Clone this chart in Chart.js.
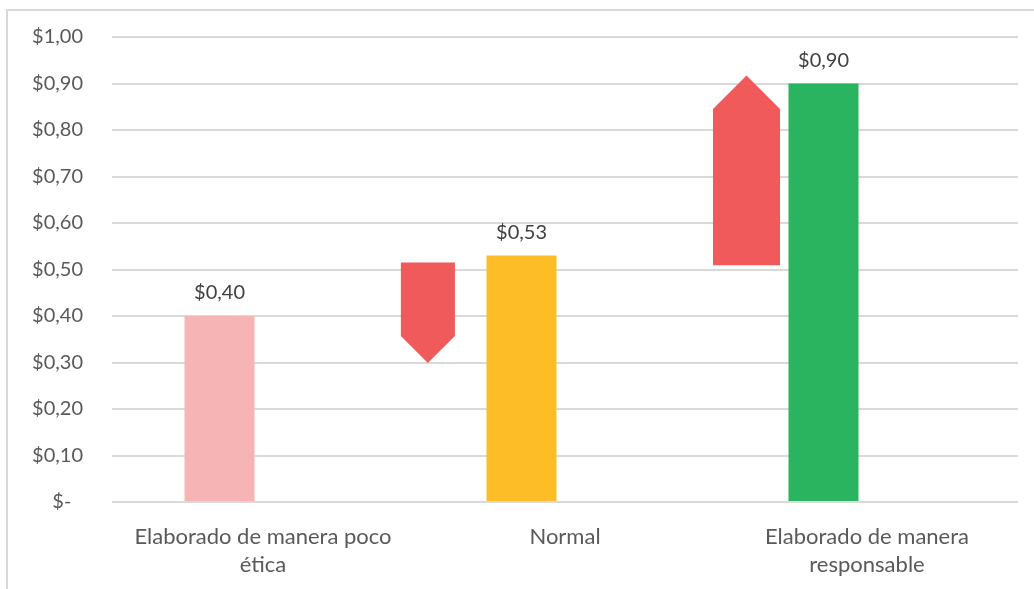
<!DOCTYPE html>
<html>
<head>
<meta charset="utf-8">
<script src="https://cdn.jsdelivr.net/npm/chart.js@4/dist/chart.umd.min.js"></script>
<style>
  html, body { margin: 0; padding: 0; background: #ffffff; overflow: hidden; }
  #wrap { position: relative; width: 1034px; height: 589px; overflow: hidden; }
  #frame { position: absolute; left: 6px; top: 9px; width: 1200px; height: 800px;
           border: 2px solid #d9d9d9; box-sizing: border-box; pointer-events: none; }
  canvas { position: absolute; left: 0; top: -4px; }
</style>
</head>
<body>
<div id="wrap">
  <canvas id="c" width="1034" height="593"></canvas>
  <div id="frame"></div>
</div>
<script>
// ---- data ----
const categories = [["Elaborado de manera poco", "ética"], ["Normal"], ["Elaborado de manera", "responsable"]];
const prices = [0.40, 0.53, 0.90];
const yTickLabels = ["$-\u2007", "$0,10", "$0,20", "$0,30", "$0,40", "$0,50", "$0,60", "$0,70", "$0,80", "$0,90", "$1,00"];
// arrows: position along the category axis (index units), start value, end value
const arrowX = [0.546, 1.601];
const arrowFrom = [0.515, 0.509];
const arrowTo = [0.299, 0.917];

// ---- styles ----
const barColors = ["#f7b4b4", "#fdbd27", "#2bb45f"];
const arrowColor = "#f05a5a";
const arrowWidthFrac = [0.179, 0.222];
const textColor = "#595959";
const fontFamily = "Lato, 'Open Sans', sans-serif";

function fmt(v) { return "$" + v.toFixed(2).replace(".", ","); }

const arrowPlugin = {
  id: "arrows",
  afterDatasetsDraw(chart) {
    const xs = chart.scales.x, ys = chart.scales.y, ctx = chart.ctx;
    const unit = xs.getPixelForValue(1) - xs.getPixelForValue(0);
    ctx.save();
    ctx.fillStyle = arrowColor;
    for (let i = 0; i < arrowX.length; i++) {
      const xc = xs.getPixelForValue(arrowX[i]);
      const hw = arrowWidthFrac[i] * unit / 2;
      const y0 = ys.getPixelForValue(arrowFrom[i]);
      const y1 = ys.getPixelForValue(arrowTo[i]);
      const dir = Math.sign(y1 - y0);
      ctx.beginPath();
      ctx.moveTo(xc - hw, y0);
      ctx.lineTo(xc + hw, y0);
      ctx.lineTo(xc + hw, y1 - dir * hw);
      ctx.lineTo(xc, y1);
      ctx.lineTo(xc - hw, y1 - dir * hw);
      ctx.closePath();
      ctx.fill();
    }
    ctx.restore();
  }
};

const labelPlugin = {
  id: "valueLabels",
  afterDatasetsDraw(chart) {
    const ctx = chart.ctx;
    const meta = chart.getDatasetMeta(0);
    ctx.save();
    ctx.font = "20px " + fontFamily;
    ctx.fillStyle = "#404040";
    ctx.textAlign = "center";
    ctx.textBaseline = "middle";
    meta.data.forEach((el, i) => {
      ctx.fillText(fmt(prices[i]), el.x, el.y - 23);
    });
    ctx.restore();
  }
};

new Chart(document.getElementById("c"), {
  type: "bar",
  data: {
    labels: categories,
    datasets: [
      { data: prices, backgroundColor: barColors, categoryPercentage: 0.576, barPercentage: 0.805 },
      { data: prices.map(() => null), categoryPercentage: 0.576, barPercentage: 0.805 }
    ]
  },
  options: {
    responsive: false,
    animation: false,
    events: [],
    layout: { padding: { top: 37, right: 16, left: 0, bottom: 0 } },
    plugins: { legend: { display: false }, tooltip: { enabled: false } },
    scales: {
      x: {
        grid: { display: false, drawTicks: false },
        border: { display: false },
        ticks: { color: textColor, font: { family: fontFamily, size: 22, lineHeight: 1.27 }, padding: 21, maxRotation: 0, autoSkip: false },
        afterFit(s) { s.height = 87; }
      },
      y: {
        min: 0, max: 1,
        grid: { color: "#d9d9d9", lineWidth: 2, drawTicks: false },
        border: { display: false },
        ticks: { stepSize: 0.1, color: textColor, font: { family: fontFamily, size: 20 }, padding: 29,
                 callback: (v, i) => yTickLabels[i] },
        afterFit(s) { s.width = 112; }
      }
    }
  },
  plugins: [arrowPlugin, labelPlugin]
});
</script>
</body>
</html>
